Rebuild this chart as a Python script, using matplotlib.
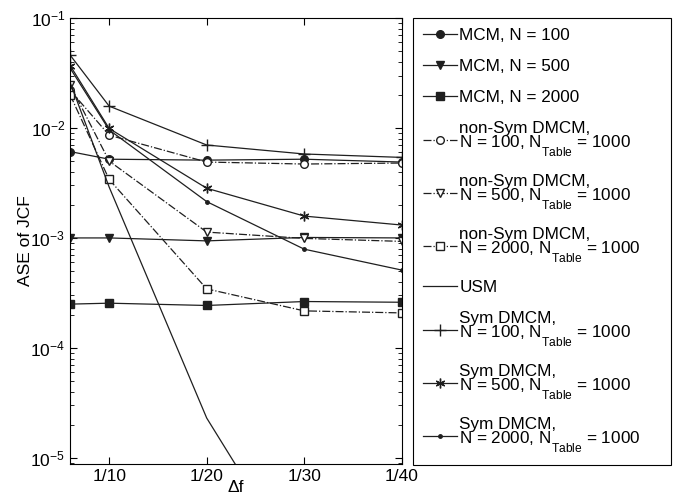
import numpy as np
import matplotlib
matplotlib.use("Agg")
import matplotlib.pyplot as plt
import matplotlib._mathtext as mtext
from matplotlib.ticker import FixedLocator, FuncFormatter, LogLocator, NullFormatter

plt.rcParams['font.family'] = ['Liberation Sans', 'DejaVu Sans']
plt.rcParams['mathtext.default'] = 'regular'
plt.rcParams['font.size'] = 12.5

# deeper subscripts, like the original figure
for cls in [mtext.FontConstantsBase] + list(mtext._font_constant_mapping.values()):
    cls.subdrop = 1.0
    cls.sub1 = 1.0

# 1/delta f positions
inv_df = [6, 10, 20, 30, 40]
tick_pos = [10, 20, 30, 40]
tick_labels = ["1/10", "1/20", "1/30", "1/40"]

mcm_100 = [6.1e-3, 5.2e-3, 5.1e-3, 5.2e-3, 4.9e-3]
mcm_500 = [1.0e-3, 1.0e-3, 9.4e-4, 1.01e-3, 1.0e-3]
mcm_2000 = [2.5e-4, 2.55e-4, 2.43e-4, 2.64e-4, 2.6e-4]
nsym_100 = [2.2e-2, 8.6e-3, 4.9e-3, 4.7e-3, 4.8e-3]
nsym_500 = [2.46e-2, 5.0e-3, 1.13e-3, 9.9e-4, 9.3e-4]
nsym_2000 = [2.0e-2, 3.4e-3, 3.44e-4, 2.17e-4, 2.08e-4]
usm = [2.6e-2, 2.9e-3, 2.3e-5, 8.5e-7, 1e-7]
sym_100 = [4.6e-2, 1.58e-2, 7.0e-3, 5.8e-3, 5.4e-3]
sym_500 = [3.7e-2, 9.9e-3, 2.83e-3, 1.58e-3, 1.31e-3]
sym_2000 = [3.5e-2, 9.6e-3, 2.14e-3, 7.9e-4, 5.1e-4]

c = '0.12'
fig = plt.figure(figsize=(6.81, 5.01), dpi=100)
ax = fig.add_axes([0.103, 0.074, 0.487, 0.890])

ax.plot(inv_df, mcm_100, '-', color=c, lw=0.9, marker='o', ms=5.5, mfc=c, mec=c, label="MCM, N = 100")
ax.plot(inv_df, mcm_500, '-', color=c, lw=0.9, marker='v', ms=5.5, mfc=c, mec=c, label="MCM, N = 500")
ax.plot(inv_df, mcm_2000, '-', color=c, lw=0.9, marker='s', ms=5.5, mfc=c, mec=c, label="MCM, N = 2000")
ax.plot(inv_df, nsym_100, '-.', color=c, lw=0.9, marker='o', ms=5.5, mfc='white', mec=c,
        label="non-Sym DMCM,\nN = 100, N$_{Table}$ = 1000")
ax.plot(inv_df, nsym_500, '-.', color=c, lw=0.9, marker='v', ms=5.5, mfc='white', mec=c,
        label="non-Sym DMCM,\nN = 500, N$_{Table}$ = 1000")
ax.plot(inv_df, nsym_2000, '-.', color=c, lw=0.9, marker='s', ms=5.5, mfc='white', mec=c,
        label="non-Sym DMCM,\nN = 2000, N$_{Table}$ = 1000")
ax.plot(inv_df, usm, '-', color=c, lw=0.9, label="USM")
ax.plot(inv_df, sym_100, '-', color=c, lw=0.9, marker='+', ms=8, mec=c,
        label="Sym DMCM,\nN = 100, N$_{Table}$ = 1000")
ax.plot(inv_df, sym_500, '-', color=c, lw=0.9, marker=(6, 2, 0), ms=7, mec=c,
        label="Sym DMCM,\nN = 500, N$_{Table}$ = 1000")
ax.plot(inv_df, sym_2000, '-', color=c, lw=0.9, marker='.', ms=5, mfc=c, mec=c,
        label="Sym DMCM,\nN = 2000, N$_{Table}$ = 1000")

ax.set_yscale('log')
ax.set_xlim(6, 40)
ax.set_ylim(8.8e-6, 1e-1)
ax.xaxis.set_major_locator(FixedLocator(tick_pos))
ax.set_xticklabels(tick_labels)
ax.yaxis.set_major_locator(LogLocator(base=10, numticks=10))
ax.yaxis.set_minor_locator(LogLocator(base=10, subs=np.arange(2, 10), numticks=10))
ax.yaxis.set_minor_formatter(NullFormatter())
ax.yaxis.set_major_formatter(FuncFormatter(lambda v, p: r'$10^{%d}$' % round(np.log10(v))))
ax.tick_params(which='both', direction='in', top=True, right=True, labelsize=12.5)
ax.tick_params(which='major', length=5)
ax.tick_params(which='minor', length=3)
ax.set_xlabel("Δf", labelpad=-3)
ax.set_ylabel("ASE of JCF", labelpad=-2)

leg = fig.legend(loc='upper left', bbox_to_anchor=(413 / 681, 1 - 18 / 501, 258 / 681, 0.0),
                 bbox_transform=fig.transFigure, mode='expand',
                 numpoints=1, handlelength=2.0, handletextpad=0.1, labelspacing=0.93,
                 fancybox=False, edgecolor='black', framealpha=1, borderpad=0.6, borderaxespad=0,
                 fontsize=12.3)
leg.get_frame().set_linewidth(0.8)
for t in leg.get_texts():
    t.set_linespacing(0.8)

fig.savefig("out.png", dpi=100)
